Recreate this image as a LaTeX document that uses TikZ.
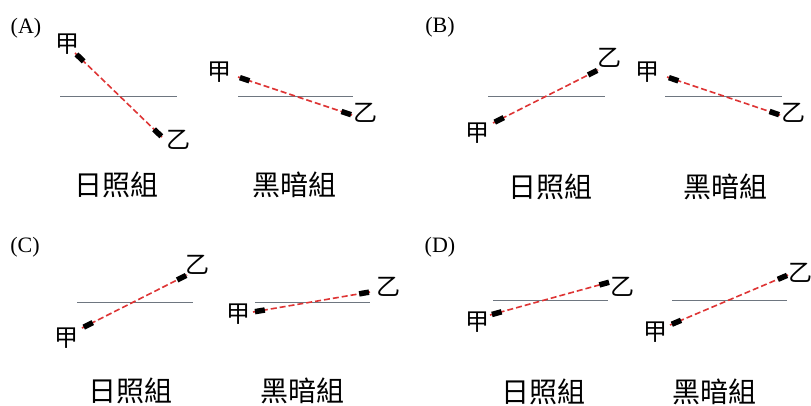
\documentclass[tikz,border=0pt]{standalone}
\usepackage{fontspec}
\setmainfont{Liberation Serif}
\newfontfamily\cjk{Noto Sans CJK TC}
\usetikzlibrary{calc}
\definecolor{linkred}{RGB}{222,52,52}
\definecolor{basegray}{RGB}{110,118,128}
\tikzset{
  lbl/.style={font=\fontsize{22}{22}\selectfont, inner sep=0pt},
  chr/.style={font=\cjk\fontsize{24}{24}\selectfont, inner sep=0pt},
  grp/.style={font=\cjk\fontsize{28}{28}\selectfont, inner sep=0pt},
  baseline/.style={draw=basegray, line width=1pt},
  link/.style={draw=linkred, line width=1.6pt, dash pattern=on 6pt off 3pt},
  mk/.style={draw=black, line width=5.5pt},
}
\newcommand\tiltline[2]{%
  \draw[link] (#1) -- (#2);
  \draw[mk] ($(#1)!2pt!(#2)$) -- ($(#1)!12pt!(#2)$);
  \draw[mk] ($(#2)!1pt!(#1)$) -- ($(#2)!11pt!(#1)$);
}
\begin{document}
\begin{tikzpicture}[x=1pt,y=-1pt]
\useasboundingbox[fill=white] (0,0) rectangle (811,405);
% panel labels
\node[lbl] (la) at (26,28) {(A)};
\node[lbl] (lb) at (440,27) {(B)};
\node[lbl] (lc) at (25,247) {(C)};
\node[lbl] (ld) at (440,247) {(D)};
% ---- A left
\draw[baseline] (60,96) -- (177,96);
\coordinate (a1s) at (75,53); \coordinate (a1e) at (162,137);
\tiltline{a1s}{a1e}
\node[chr] (a1j) at (67,44) {甲};
\node[chr] (a1y) at (178,140) {乙};
\node[grp] (a1g) at (116,185) {日照組};
% ---- A right
\draw[baseline] (238,96) -- (353,96);
\coordinate (a2s) at (238,77); \coordinate (a2e) at (352,115);
\tiltline{a2s}{a2e}
\node[chr] (a2j) at (219,72) {甲};
\node[chr] (a2y) at (365,113) {乙};
\node[grp] (a2g) at (294,185) {黑暗組};
% ---- B left
\draw[baseline] (488,96) -- (605,96);
\coordinate (b1s) at (493,123); \coordinate (b1e) at (598,70);
\tiltline{b1s}{b1e}
\node[chr] (b1j) at (477,133) {甲};
\node[chr] (b1y) at (609,58) {乙};
\node[grp] (b1g) at (550,187) {日照組};
% ---- B right
\draw[baseline] (665,96) -- (782,96);
\coordinate (b2s) at (667,77); \coordinate (b2e) at (780,115);
\tiltline{b2s}{b2e}
\node[chr] (b2j) at (647,72) {甲};
\node[chr] (b2y) at (793,113) {乙};
\node[grp] (b2g) at (725,187) {黑暗組};
% ---- C left
\draw[baseline] (77,302) -- (193,302);
\coordinate (c1s) at (82,328); \coordinate (c1e) at (187,275);
\tiltline{c1s}{c1e}
\node[chr] (c1j) at (66,338) {甲};
\node[chr] (c1y) at (197,265) {乙};
\node[grp] (c1g) at (130,391) {日照組};
% ---- C right
\draw[baseline] (255,302) -- (370,302);
\coordinate (c2s) at (253,312); \coordinate (c2e) at (370,292);
\tiltline{c2s}{c2e}
\node[chr] (c2j) at (238,314) {甲};
\node[chr] (c2y) at (388,287) {乙};
\node[grp] (c2g) at (302,391) {黑暗組};
% ---- D left
\draw[baseline] (493,300) -- (608,300);
\coordinate (d1s) at (490,315); \coordinate (d1e) at (610,282);
\tiltline{d1s}{d1e}
\node[chr] (d1j) at (477,322) {甲};
\node[chr] (d1y) at (622,287) {乙};
\node[grp] (d1g) at (543,392) {日照組};
% ---- D right
\draw[baseline] (672,300) -- (787,300);
\coordinate (d2s) at (670,325); \coordinate (d2e) at (788,275);
\tiltline{d2s}{d2e}
\node[chr] (d2j) at (655,332) {甲};
\node[chr] (d2y) at (800,273) {乙};
\node[grp] (d2g) at (714,392) {黑暗組};
\end{tikzpicture}
\end{document}
